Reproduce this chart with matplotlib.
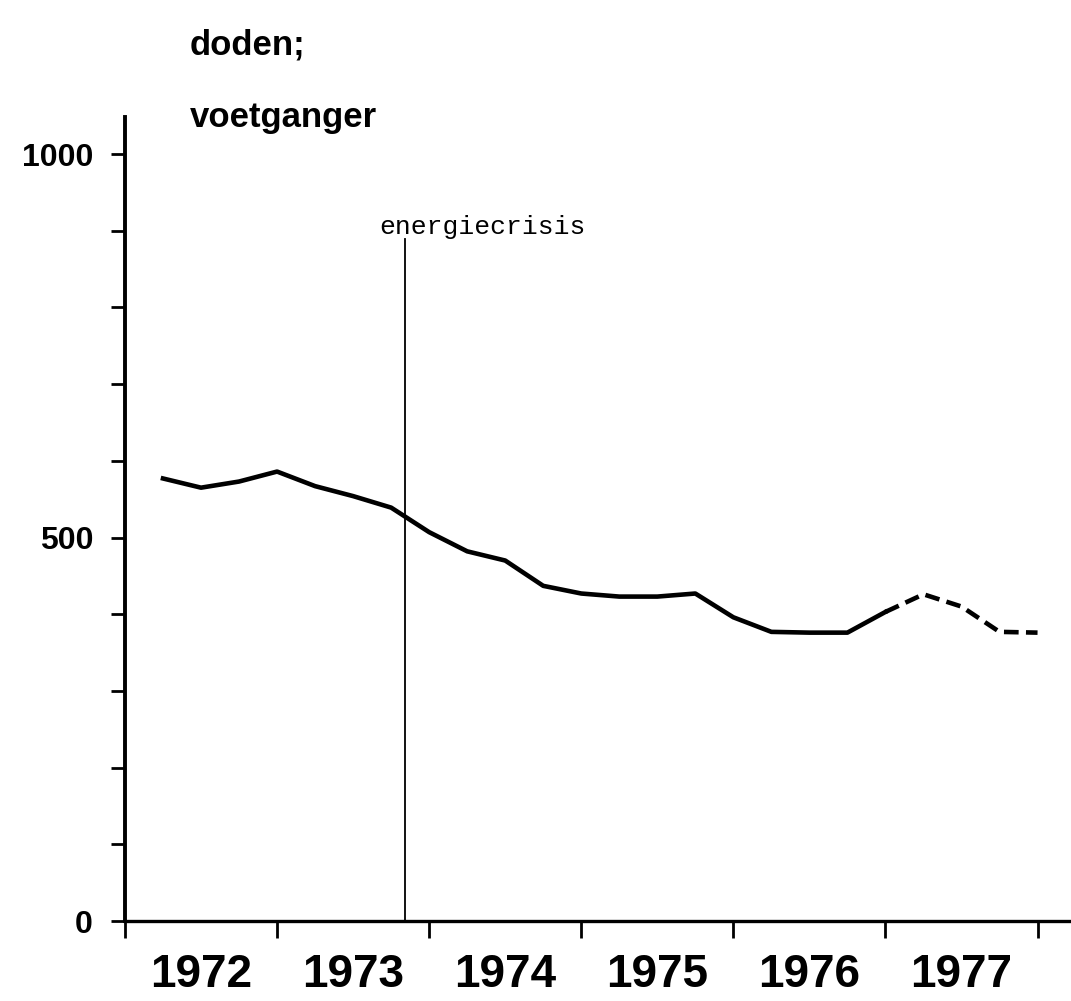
import numpy as np
import matplotlib
matplotlib.use('Agg')
import matplotlib.pyplot as plt

# quarterly pedestrian deaths
kwartaal = np.arange(1, 25) / 4.0 + 1972
doden = [577, 565, 573, 586, 567, 554, 539, 507,
         482, 470, 437, 427, 423, 423, 427, 396,
         377, 376, 376, 403, 426, 410, 377, 376]
n_zeker = 20          # first 20 points solid, rest dashed (voorlopig)
jaren = [1972, 1973, 1974, 1975, 1976, 1977]
crisis_x = 1973.84

plt.rcParams['font.family'] = ['Liberation Sans', 'DejaVu Sans']

fig = plt.figure(figsize=(10.71, 10.01), dpi=100)
ax = fig.add_axes([0.1167, 0.0799, 0.8833, 0.803])

x = np.array(kwartaal)
y = np.array(doden)
ax.plot(x[:n_zeker], y[:n_zeker], color='black', lw=3.3, solid_joinstyle='round')
ax.plot(x[n_zeker - 1:], y[n_zeker - 1:], color='black', lw=3.3,
        linestyle=(0, (3.2, 1.6)), dash_capstyle='butt')

ax.plot([crisis_x, crisis_x], [0, 889], color='black', lw=1.3)
ax.text(crisis_x - 0.17, 905, 'energiecrisis', family='Liberation Mono',
        fontsize=19, ha='left', va='center')

ax.set_xlim(1972, 1978.22)
ax.set_ylim(0, 1048)

for s in ['top', 'right']:
    ax.spines[s].set_visible(False)
ax.spines['left'].set_linewidth(2.8)
ax.spines['bottom'].set_linewidth(2.4)

ax.set_yticks(np.arange(0, 1001, 100))
ax.set_yticklabels(['0', '', '', '', '', '500', '', '', '', '', '1000'])
ax.tick_params(axis='y', length=10, width=2, pad=13, labelsize=23)
for t in ax.get_yticklabels():
    t.set_fontweight('bold')

ax.set_xticks(np.arange(1972, 1979))
ax.set_xticklabels([])
ax.tick_params(axis='x', which='major', length=12, width=2)
ax.set_xticks([j + 0.5 for j in jaren], minor=True)
ax.set_xticklabels([str(j) for j in jaren], minor=True)
ax.tick_params(axis='x', which='minor', length=0, pad=23, labelsize=33)
for t in ax.get_xticklabels(minor=True):
    t.set_fontweight('bold')

fig.text(190 / 1071, 1 - 45 / 1001, 'doden;', fontsize=25, fontweight='bold',
         ha='left', va='center')
fig.text(190 / 1071, 1 - 117 / 1001, 'voetganger', fontsize=25, fontweight='bold',
         ha='left', va='center')

fig.savefig('out.png', dpi=100)
